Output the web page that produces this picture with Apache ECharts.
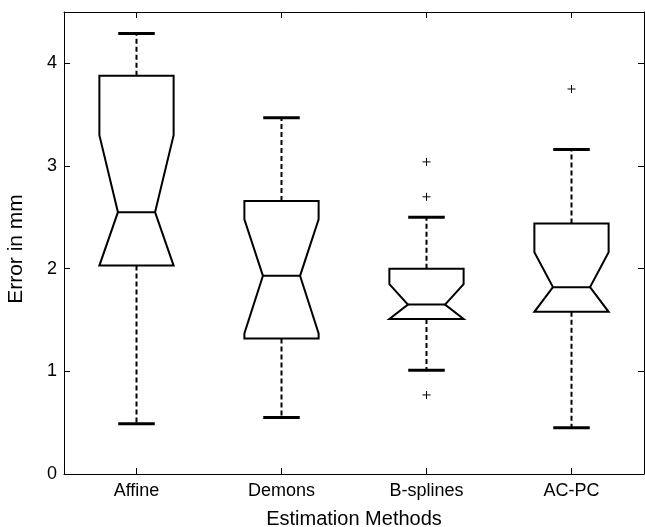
<!DOCTYPE html>
<html>
<head>
<meta charset="utf-8">
<script src="https://cdn.jsdelivr.net/npm/echarts@6/dist/echarts.min.js"></script>
<style>
html, body { margin: 0; padding: 0; background: #fff; }
#chart { width: 645px; height: 527px; }
</style>
</head>
<body>
<div id="chart"></div>
<script>
// box statistics per method (mm)
let methods = ["Affine", "Demons", "B-splines", "AC-PC"];
let whiskerLow = [0.49, 0.55, 1.01, 0.45];
let q1 = [2.03, 1.32, 1.51, 1.58];
let notchLow = [2.03, 1.37, 1.51, 1.58];
let median = [2.55, 1.93, 1.65, 1.82];
let notchHigh = [3.30, 2.48, 1.85, 2.16];
let q3 = [3.88, 2.66, 2.00, 2.44];
let whiskerHigh = [4.29, 3.47, 2.50, 3.16];
// outliers: method index + value
let outlierMethod = [2, 2, 2, 3];
let outlierValue = [3.04, 2.70, 0.77, 3.75];

let font = "Liberation Sans";
let boxData = methods.map(function (m, i) {
  return [i, whiskerLow[i], q1[i], notchLow[i], median[i], notchHigh[i], q3[i], whiskerHigh[i]];
});
let outlierData = outlierValue.map(function (v, i) {
  return [outlierMethod[i], v];
});

function renderBox(params, api) {
  let i = api.value(0);
  let band = api.size([1, 0])[0];
  let half = band * 0.256;
  let notchHalf = half * 0.5;
  let capHalf = band * 0.126;
  let pt = function (dx, v) {
    let c = api.coord([i, v]);
    return [c[0] + dx, c[1]];
  };
  let wl = api.value(1), b = api.value(2), nl = api.value(3), md = api.value(4);
  let nh = api.value(5), t = api.value(6), wh = api.value(7);
  let solid = { stroke: "#000", lineWidth: 2, fill: null };
  let dashed = { stroke: "#000", lineWidth: 2, lineDash: [5, 3], fill: null };
  let cap = { stroke: "#000", lineWidth: 3, fill: null };
  return {
    type: "group",
    children: [
      { type: "polyline", shape: { points: [pt(0, t), pt(0, wh)] }, style: dashed },
      { type: "polyline", shape: { points: [pt(0, b), pt(0, wl)] }, style: dashed },
      { type: "polyline", shape: { points: [pt(-capHalf, wh), pt(capHalf, wh)] }, style: cap },
      { type: "polyline", shape: { points: [pt(-capHalf, wl), pt(capHalf, wl)] }, style: cap },
      {
        type: "polygon",
        shape: {
          points: [pt(-half, t), pt(half, t), pt(half, nh), pt(notchHalf, md), pt(half, nl), pt(half, b),
            pt(-half, b), pt(-half, nl), pt(-notchHalf, md), pt(-half, nh)]
        },
        style: { stroke: "#000", lineWidth: 2, fill: "#fff", lineJoin: "miter" }
      },
      { type: "polyline", shape: { points: [pt(-notchHalf, md), pt(notchHalf, md)] }, style: solid }
    ]
  };
}

function renderPlus(params, api) {
  let c = api.coord([api.value(0), api.value(1)]);
  let s = 4;
  let st = { stroke: "#000", lineWidth: 1 };
  return {
    type: "group",
    children: [
      { type: "line", shape: { x1: c[0] - s, y1: c[1], x2: c[0] + s, y2: c[1] }, style: st },
      { type: "line", shape: { x1: c[0], y1: c[1] - s, x2: c[0], y2: c[1] + s }, style: st }
    ]
  };
}

let axisLine = { show: true, onZero: false, lineStyle: { color: "#000", width: 1 } };
let tick = { show: true, inside: true, length: 6, alignWithLabel: true, lineStyle: { color: "#000", width: 1 } };
let intLabel = function (v) { return v % 1 === 0 ? String(v) : ""; };

let chart = echarts.init(document.getElementById("chart"), null, { renderer: "canvas" });
chart.setOption({
  animation: false,
  backgroundColor: "#fff",
  textStyle: { fontFamily: font },
  grid: { left: 64, right: 1, top: 12, bottom: 53, containLabel: false, outerBoundsMode: "none" },
  xAxis: [{
    type: "category",
    data: methods,
    boundaryGap: true,
    position: "bottom",
    axisLine: axisLine,
    axisTick: tick,
    axisLabel: { color: "#000", fontSize: 18, fontFamily: font, margin: 8 },
    splitLine: { show: false },
    name: "Estimation Methods",
    nameLocation: "middle",
    nameGap: 35,
    nameTextStyle: { color: "#000", fontSize: 20, fontFamily: font }
  }, {
    type: "category",
    data: methods,
    boundaryGap: true,
    position: "top",
    axisLine: axisLine,
    axisTick: tick,
    axisLabel: { show: false },
    splitLine: { show: false }
  }],
  yAxis: [{
    type: "value",
    min: 0,
    max: 4.5,
    interval: 1,
    position: "left",
    axisLine: axisLine,
    axisTick: { show: true, inside: true, length: 6, lineStyle: { color: "#000", width: 1 } },
    axisLabel: { color: "#000", fontSize: 18, fontFamily: font, margin: 7, formatter: intLabel },
    splitLine: { show: false },
    name: "Error in mm",
    nameLocation: "middle",
    nameGap: 37,
    nameTextStyle: { color: "#000", fontSize: 21, fontFamily: font, padding: [0, 12, 0, 0] }
  }, {
    type: "value",
    min: 0,
    max: 4.5,
    interval: 1,
    position: "right",
    axisLine: axisLine,
    axisTick: { show: true, inside: true, length: 6, lineStyle: { color: "#000", width: 1 } },
    axisLabel: { show: false },
    splitLine: { show: false }
  }],
  series: [{
    type: "custom",
    name: "box",
    xAxisIndex: 0,
    yAxisIndex: 0,
    renderItem: renderBox,
    encode: { x: 0, y: [1, 2, 3, 4, 5, 6, 7] },
    data: boxData,
    silent: true
  }, {
    type: "custom",
    name: "outliers",
    xAxisIndex: 0,
    yAxisIndex: 0,
    renderItem: renderPlus,
    encode: { x: 0, y: 1 },
    data: outlierData,
    silent: true
  }]
});
</script>
</body>
</html>
